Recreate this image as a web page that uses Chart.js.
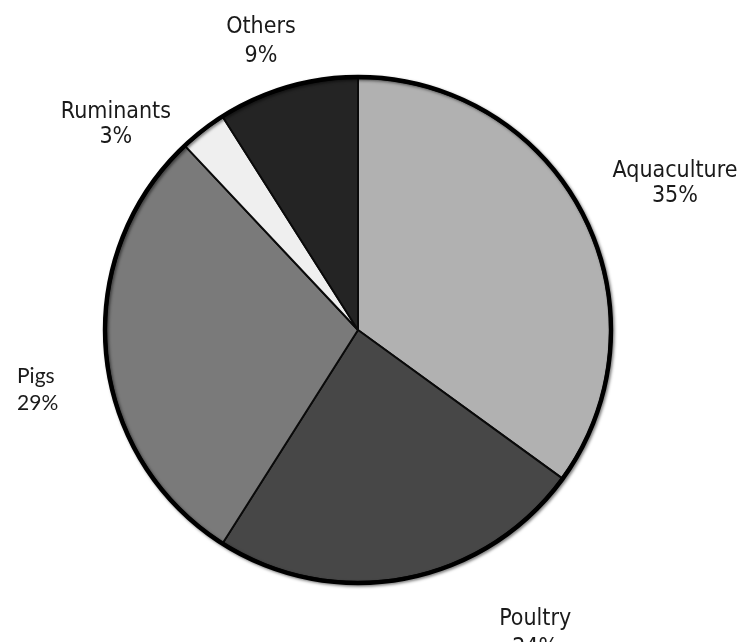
<!DOCTYPE html>
<html>
<head>
<meta charset="utf-8">
<title>Feed use by sector</title>
<script src="https://cdn.jsdelivr.net/npm/chart.js@4.4.1/dist/chart.umd.min.js"></script>
<style>
  html, body { margin: 0; padding: 0; background: #ffffff; }
  #wrap { width: 742px; height: 642px; }
</style>
</head>
<body>
<div id="wrap"><canvas id="pie" width="742" height="642"></canvas></div>
<script>
// Sector shares (percent), drawn clockwise from 12 o'clock
const categories = ['Aquaculture', 'Poultry', 'Pigs', 'Ruminants', 'Others'];
const shares = [35, 24, 29, 3, 9];
const shareLabels = shares.map(v => v + '%');

// Slice fills, greyscale
const sliceColors = ['#b1b1b1', '#474747', '#7a7a7a', '#efefef', '#242424'];

// Where each two-line label sits: angle (deg clockwise from top) and
// distance in pie radii, measured to the first line's baseline.
const labelFont = '23px "DejaVu Sans Condensed", "DejaVu Sans", sans-serif';
const labelPlacement = [
  { angle: 64.2,  dist: 1.397, align: 'center', gap: 25, font: labelFont },
  { angle: 149.0, dist: 1.365, align: 'center', gap: 29, font: labelFont },
  { angle: 261.2, dist: 1.369, align: 'left',   gap: 27, font: '21px Lato, "Noto Sans", sans-serif' },
  { angle: 311.2, dist: 1.277, align: 'center', gap: 25, font: labelFont },
  { angle: 341.9, dist: 1.24,  align: 'center', gap: 29, font: labelFont }
];

// Heavy outer rim around the whole pie
const outerRim = {
  id: 'outerRim',
  afterDatasetsDraw(chart) {
    const arc = chart.getDatasetMeta(0).data[0];
    if (!arc) return;
    const { x, y, outerRadius } = arc.getProps(['x', 'y', 'outerRadius'], true);
    const ctx = chart.ctx;
    ctx.save();
    ctx.beginPath();
    ctx.arc(x, y, outerRadius + 1, 0, Math.PI * 2);
    ctx.lineWidth = 4.4;
    ctx.strokeStyle = '#000000';
    ctx.shadowColor = 'rgba(0,0,0,0.5)';
    ctx.shadowBlur = 3;
    ctx.shadowOffsetX = 1.5;
    ctx.shadowOffsetY = 1.5;
    ctx.stroke();
    ctx.restore();
  }
};

// Category name and share, placed around the pie
const sliceLabels = {
  id: 'sliceLabels',
  afterDraw(chart) {
    const arc = chart.getDatasetMeta(0).data[0];
    if (!arc) return;
    const { x, y, outerRadius } = arc.getProps(['x', 'y', 'outerRadius'], true);
    const ctx = chart.ctx;
    ctx.save();
    ctx.fillStyle = '#1a1a1a';
    ctx.textBaseline = 'alphabetic';
    categories.forEach((name, i) => {
      const p = labelPlacement[i];
      const a = p.angle * Math.PI / 180;
      const lx = x + Math.sin(a) * outerRadius * p.dist;
      const ly = y - Math.cos(a) * outerRadius * p.dist;
      ctx.font = p.font;
      ctx.textAlign = p.align;
      ctx.fillText(name, lx, ly);
      ctx.fillText(shareLabels[i], lx, ly + p.gap);
    });
    ctx.restore();
  }
};

new Chart(document.getElementById('pie'), {
  type: 'pie',
  data: {
    labels: categories,
    datasets: [{
      data: shares,
      backgroundColor: sliceColors,
      borderColor: '#0a0a0a',
      borderWidth: 1.9,
      radius: 252
    }]
  },
  options: {
    responsive: false,
    animation: false,
    layout: { padding: { top: 78, bottom: 60, left: 106, right: 132 } },
    plugins: {
      legend: { display: false },
      tooltip: { enabled: false }
    }
  },
  plugins: [outerRim, sliceLabels]
});
</script>
</body>
</html>
